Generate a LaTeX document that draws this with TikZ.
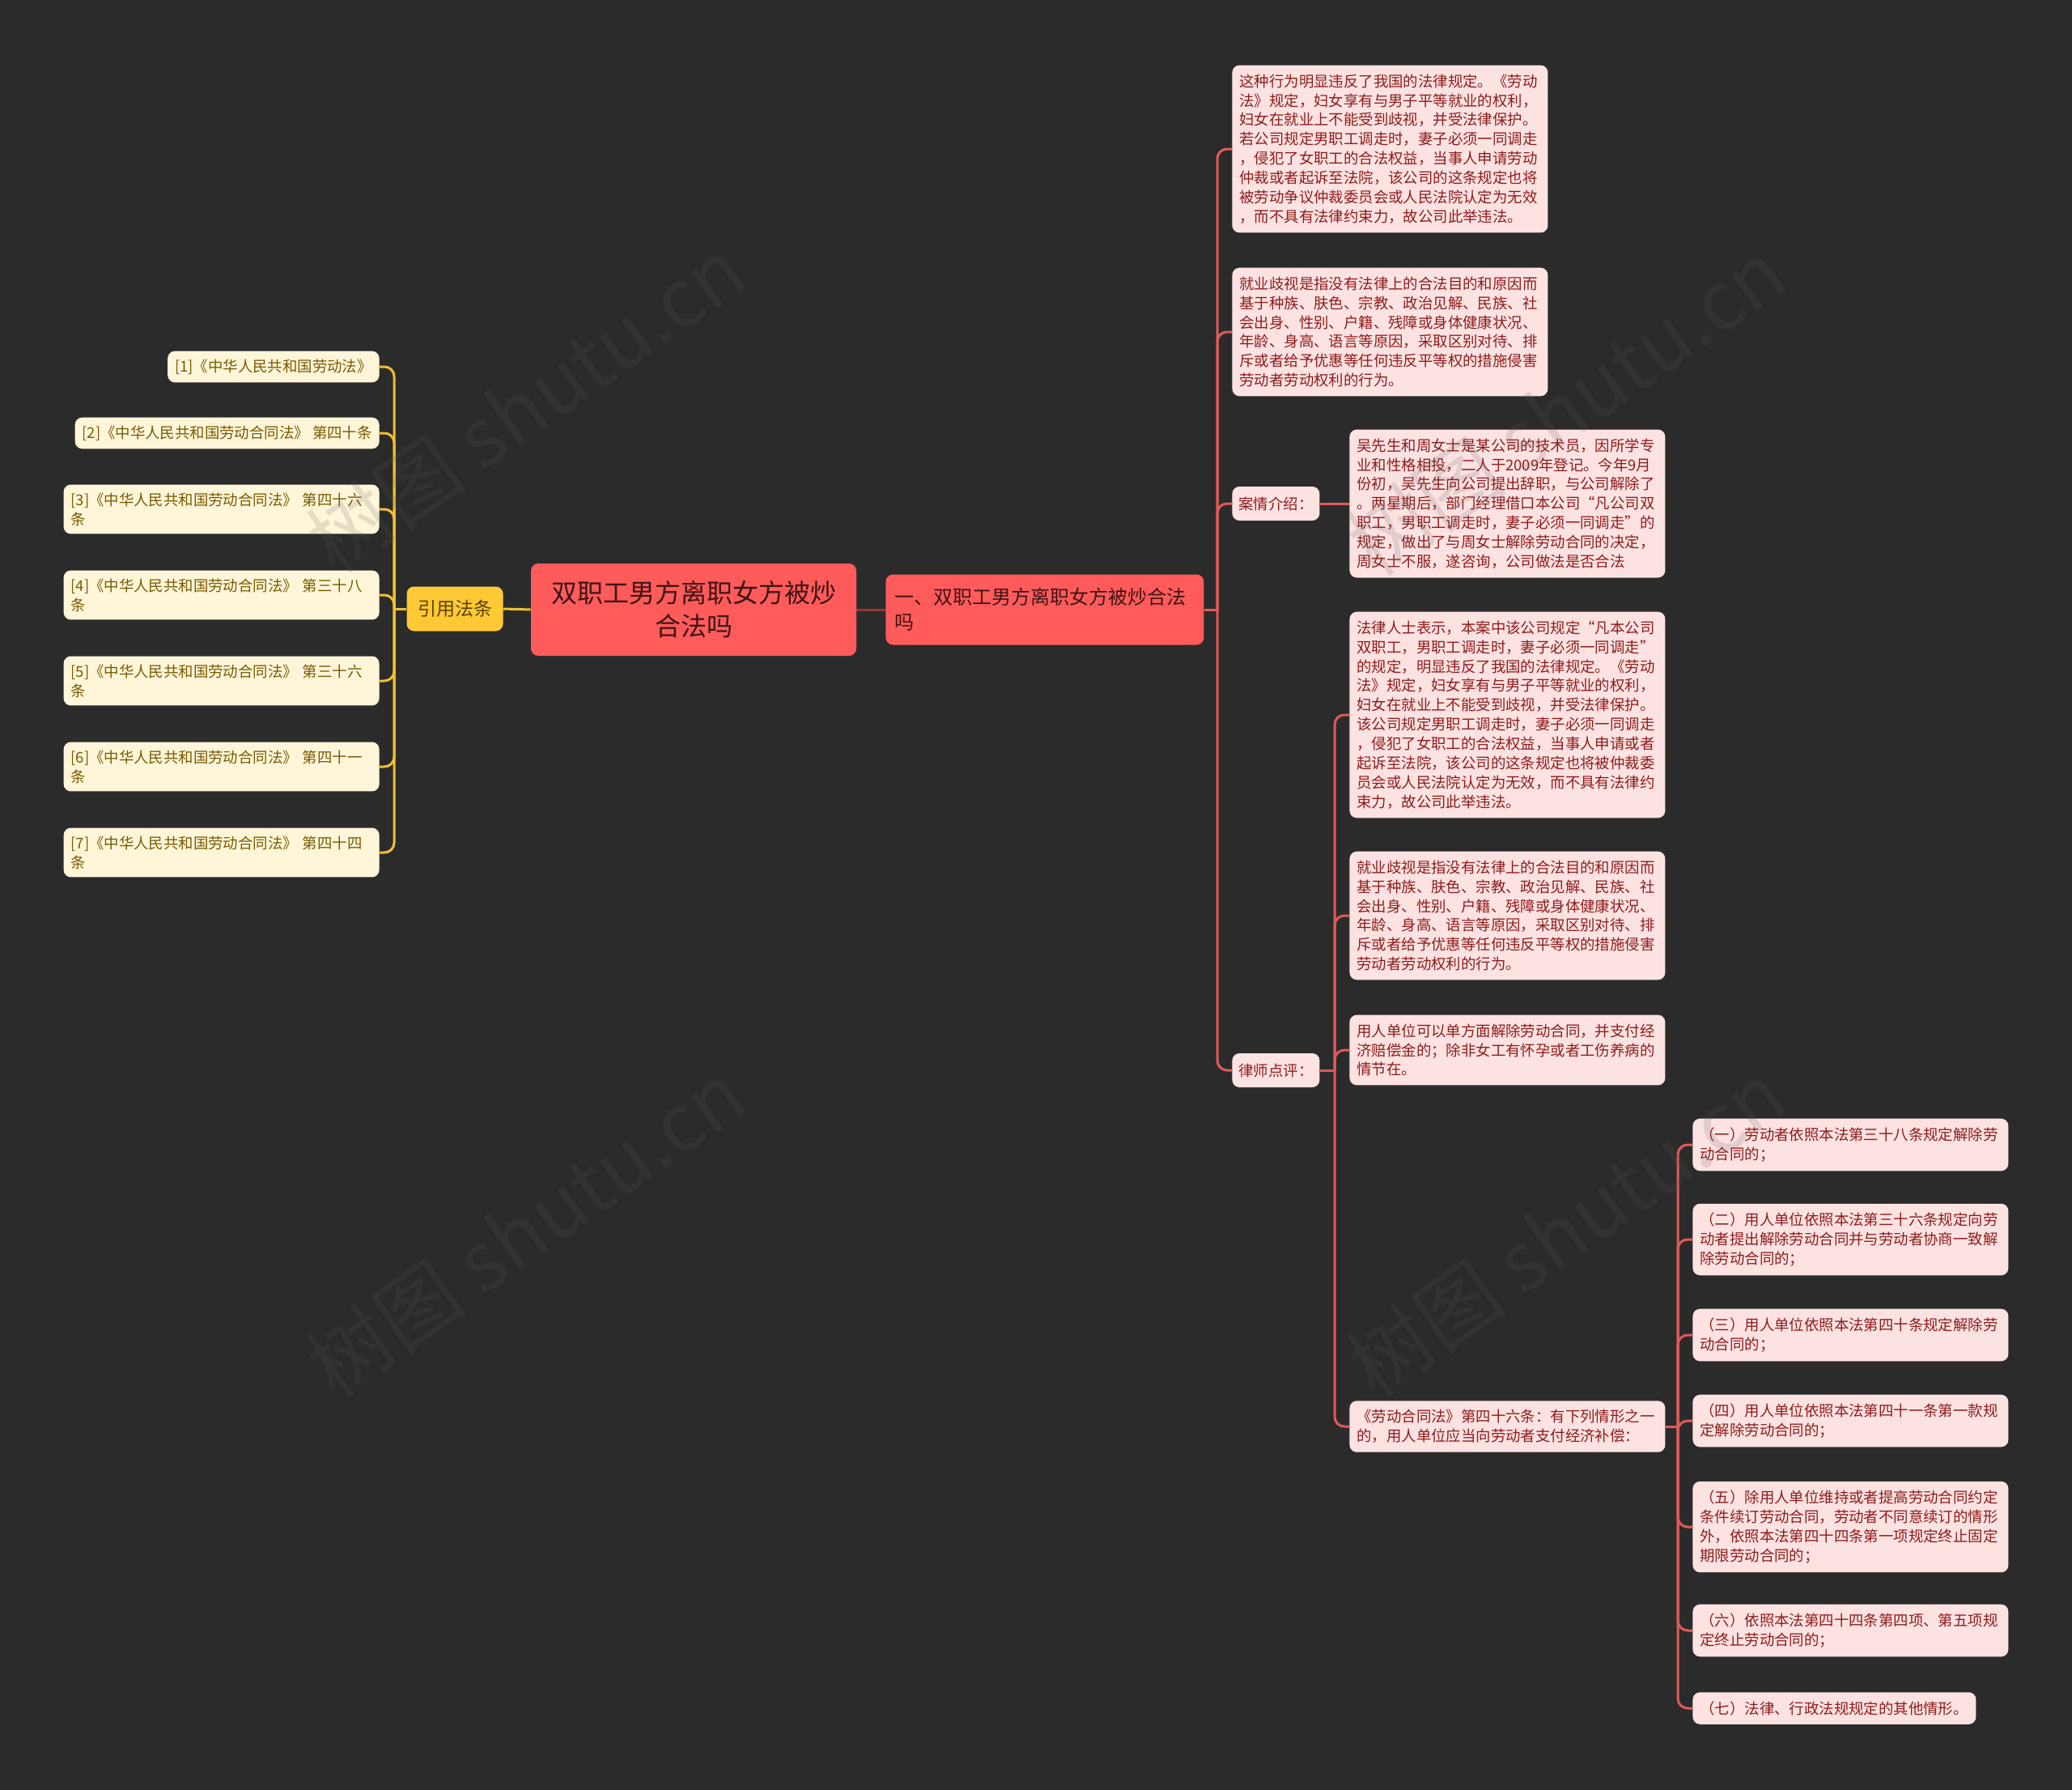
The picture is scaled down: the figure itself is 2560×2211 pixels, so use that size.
\documentclass[tikz,border=0pt]{standalone}
\usepackage{fontspec}
\setmainfont{Noto Sans CJK SC}
\definecolor{bg}{HTML}{2B2B2B}
\definecolor{pinkfill}{HTML}{FDE2E2}
\definecolor{pinktext}{HTML}{8E1C1C}
\definecolor{pinkline}{HTML}{E05A5A}
\definecolor{rootfill}{HTML}{FF5B5B}
\definecolor{roottext}{HTML}{3F1414}
\definecolor{yelfill}{HTML}{FFC936}
\definecolor{yeltext}{HTML}{5A4200}
\definecolor{yelline}{HTML}{F0C030}
\definecolor{reffill}{HTML}{FFF6DA}
\definecolor{reftext}{HTML}{7A5A00}
\definecolor{darkline}{HTML}{9A3535}
\definecolor{wmgray}{HTML}{595959}
\begin{document}
\begin{tikzpicture}[x=0.5pt,y=-0.5pt,
  pbox/.style={fill=pinkfill, text=pinktext, rounded corners=4.5pt, inner xsep=4.5pt, inner ysep=5.5pt,
    text width=186pt, align=left, font=\fontsize{9.2}{11.95}\selectfont, anchor=west},
  plabel/.style={fill=pinkfill, text=pinktext, rounded corners=4.5pt, inner xsep=4pt, inner ysep=3pt,
    minimum height=21pt, font=\fontsize{9.2}{11.95}\selectfont, anchor=west},
  refbox/.style={fill=reffill, text=reftext, rounded corners=4.5pt, inner xsep=4.5pt, inner ysep=5pt,
    font=\fontsize{9.2}{12}\selectfont, anchor=east},
  refwide/.style={refbox, text width=186pt, align=left},
  rootbox/.style={fill=rootfill, text=roottext, rounded corners=4.5pt, align=center,
    minimum width=201pt, minimum height=57pt, font=\fontsize{16}{20.5}\selectfont},
  topbox/.style={fill=rootfill, text=roottext, rounded corners=4.5pt, inner xsep=5.5pt, align=left,
    text width=185.5pt, minimum height=43.5pt, font=\fontsize{12}{15.5}\selectfont, anchor=west},
  yelbox/.style={fill=yelfill, text=yeltext, rounded corners=4.5pt, minimum width=59.5pt,
    minimum height=27.5pt, inner xsep=2pt, font=\fontsize{11.5}{14}\selectfont},
  pconn/.style={draw=pinkline, line width=1.5pt, rounded corners=6pt},
  yconn/.style={draw=yelline, line width=1.5pt, rounded corners=6pt},
  dconn/.style={draw=darkline, line width=1.5pt},
  wm/.style={rotate=35, text=wmgray, text opacity=0.16, font=\fontsize{50}{54}\selectfont}
]
\fill[bg] (0,0) rectangle (2560,2211);
\useasboundingbox (0,0) rectangle (2560,2211);

% central nodes
\node[rootbox] (root) at (857,753) {双职工男方离职女方被炒\\合法吗};
\node[yelbox] (yin) at (562,752) {引用法条};
\node[topbox] (top) at (1094,753) {一、双职工男方离职女方被炒合法\\吗};

% references
\node[refbox] (r1) at (469,453) {[1]《中华人民共和国劳动法》};
\node[refbox] (r2) at (469,535) {[2]《中华人民共和国劳动合同法》~第四十条};
\node[refwide] (r3) at (469,629) {[3]《中华人民共和国劳动合同法》~第四十六\\条};
\node[refwide] (r4) at (469,735) {[4]《中华人民共和国劳动合同法》~第三十八\\条};
\node[refwide] (r5) at (469,841) {[5]《中华人民共和国劳动合同法》~第三十六\\条};
\node[refwide] (r6) at (469,947) {[6]《中华人民共和国劳动合同法》~第四十一\\条};
\node[refwide] (r7) at (469,1053) {[7]《中华人民共和国劳动合同法》~第四十四\\条};

% right branch
\node[pbox] (A) at (1522,184) {这种行为明显违反了我国的法律规定。《劳动\\法》规定，妇女享有与男子平等就业的权利，\\妇女在就业上不能受到歧视，并受法律保护。\\若公司规定男职工调走时，妻子必须一同调走\\，侵犯了女职工的合法权益，当事人申请劳动\\仲裁或者起诉至法院，该公司的这条规定也将\\被劳动争议仲裁委员会或人民法院认定为无效\\，而不具有法律约束力，故公司此举违法。};
\node[pbox] (B) at (1522,410) {就业歧视是指没有法律上的合法目的和原因而\\基于种族、肤色、宗教、政治见解、民族、社\\会出身、性别、户籍、残障或身体健康状况、\\年龄、身高、语言等原因，采取区别对待、排\\斥或者给予优惠等任何违反平等权的措施侵害\\劳动者劳动权利的行为。};
\node[plabel] (anq) at (1522,622) {案情介绍：};
\node[pbox] (case) at (1667,622) {吴先生和周女士是某公司的技术员，因所学专\\业和性格相投，二人于2009年登记。今年9月\\份初，吴先生向公司提出辞职，与公司解除了\\。两星期后，部门经理借口本公司“凡公司双\\职工，男职工调走时，妻子必须一同调走”的\\规定，做出了与周女士解除劳动合同的决定，\\周女士不服，遂咨询，公司做法是否合法};
\node[plabel] (lsp) at (1522,1322) {律师点评：};
\node[pbox] (L1) at (1667,883) {法律人士表示，本案中该公司规定“凡本公司\\双职工，男职工调走时，妻子必须一同调走”\\的规定，明显违反了我国的法律规定。《劳动\\法》规定，妇女享有与男子平等就业的权利，\\妇女在就业上不能受到歧视，并受法律保护。\\该公司规定男职工调走时，妻子必须一同调走\\，侵犯了女职工的合法权益，当事人申请或者\\起诉至法院，该公司的这条规定也将被仲裁委\\员会或人民法院认定为无效，而不具有法律约\\束力，故公司此举违法。};
\node[pbox] (L2) at (1667,1131) {就业歧视是指没有法律上的合法目的和原因而\\基于种族、肤色、宗教、政治见解、民族、社\\会出身、性别、户籍、残障或身体健康状况、\\年龄、身高、语言等原因，采取区别对待、排\\斥或者给予优惠等任何违反平等权的措施侵害\\劳动者劳动权利的行为。};
\node[pbox] (L3) at (1667,1297) {用人单位可以单方面解除劳动合同，并支付经\\济赔偿金的；除非女工有怀孕或者工伤养病的\\情节在。};
\node[pbox] (L4) at (1667,1762) {《劳动合同法》第四十六条：有下列情形之一\\的，用人单位应当向劳动者支付经济补偿：};
\node[pbox] (k1) at (2091,1414) {（一）劳动者依照本法第三十八条规定解除劳\\动合同的；};
\node[pbox] (k2) at (2091,1531) {（二）用人单位依照本法第三十六条规定向劳\\动者提出解除劳动合同并与劳动者协商一致解\\除劳动合同的；};
\node[pbox] (k3) at (2091,1649) {（三）用人单位依照本法第四十条规定解除劳\\动合同的；};
\node[pbox] (k4) at (2091,1755) {（四）用人单位依照本法第四十一条第一款规\\定解除劳动合同的；};
\node[pbox] (k5) at (2091,1886) {（五）除用人单位维持或者提高劳动合同约定\\条件续订劳动合同，劳动者不同意续订的情形\\外，依照本法第四十四条第一项规定终止固定\\期限劳动合同的；};
\node[pbox] (k6) at (2091,2014) {（六）依照本法第四十四条第四项、第五项规\\定终止劳动合同的；};
\node[pbox, text width=166pt] (k7) at (2091,2110) {（七）法律、行政法规规定的其他情形。};

% connectors
\draw[dconn] (root.east) -- (top.west);
\draw[yconn] (yin.east) -- (root.west);

\coordinate (sy) at (487,752);
\draw[yconn] (yin.west) -- (sy);
\foreach \c in {r1,r2,r3,r4,r5,r6,r7} \draw[yconn] (sy) |- (\c.east);

\coordinate (s1) at (1504,753);
\draw[pconn] (top.east) -- (s1);
\foreach \c in {A,B,anq,lsp} \draw[pconn] (s1) |- (\c.west);

\draw[pconn] (anq.east) -- (case.west);

\coordinate (s3) at (1649,1322);
\draw[pconn] (lsp.east) -- (s3);
\foreach \c in {L1,L2,L3,L4} \draw[pconn] (s3) |- (\c.west);

\coordinate (s4) at (2073,1762);
\draw[pconn] (L4.east) -- (s4);
\foreach \c in {k1,k2,k3,k4,k5,k6,k7} \draw[pconn] (s4) |- (\c.west);

% watermarks
\node[wm] (wm1) at (650,500) {树图 shutu.cn};
\node[wm] (wm2) at (650,1518) {树图 shutu.cn};
\node[wm] (wm3) at (1935,503) {树图 shutu.cn};
\node[wm] (wm4) at (1935,1518) {树图 shutu.cn};
\end{tikzpicture}
\end{document}
